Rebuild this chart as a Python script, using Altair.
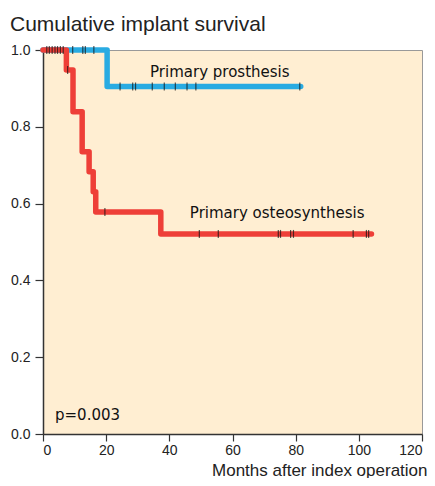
import altair as alt
import pandas as pd

# ---- data ----
# Primary osteosynthesis (red) step curve
red_t = [0, 7.4, 9.5, 12.4, 14.6, 15.9, 16.7, 37.3, 104.0]
red_s = [1.0, 0.948, 0.839, 0.735, 0.683, 0.631, 0.578, 0.521, 0.521]
# censor marks (time, survival)
red_cens_t = [1.2, 2.0, 2.9, 3.8, 4.6, 5.5, 6.4, 7.8, 19.6,
              49.5, 55.5, 74.5, 75.2, 78.4, 79.3, 98.2, 102.4, 103.1]
red_cens_s = [1.0, 1.0, 1.0, 1.0, 1.0, 1.0, 1.0, 0.948, 0.578,
              0.521, 0.521, 0.521, 0.521, 0.521, 0.521, 0.521, 0.521, 0.521]

# Primary prosthesis (blue) step curve
blue_t = [0, 20.3, 81.6]
blue_s = [1.0, 0.905, 0.905]
blue_cens_t = [9.4, 12.6, 13.4, 16.1, 24.4, 28.4, 29.3, 34.6, 38.4, 41.9, 45.6, 48.4, 81.3]
blue_cens_s = [1.0, 1.0, 1.0, 1.0, 0.905, 0.905, 0.905, 0.905, 0.905, 0.905, 0.905, 0.905, 0.905]

label_text = ["Primary prosthesis", "Primary osteosynthesis", "p=0.003"]
label_t = [33.9, 46.5, 3.8]
label_s = [0.93, 0.562, 0.036]

x_ticks = [0, 20, 40, 60, 80, 100, 120]
y_ticks = [0.0, 0.2, 0.4, 0.6, 0.8, 1.0]

RED = "#EE3F38"
BLUE = "#29ABE2"

red_df = pd.DataFrame({"t": red_t, "s": red_s})
blue_df = pd.DataFrame({"t": blue_t, "s": blue_s})
red_c = pd.DataFrame({"t": red_cens_t, "s": red_cens_s})
blue_c = pd.DataFrame({"t": blue_cens_t, "s": blue_cens_s})
labels = pd.DataFrame({"t": label_t, "s": label_s, "txt": label_text})

xs = alt.Scale(domain=[0, 120], nice=False)
ys = alt.Scale(domain=[0, 1], nice=False)

X = alt.X("t:Q", scale=xs,
          axis=alt.Axis(values=x_ticks, title="Months after index operation",
                        titleX=384, titleY=41, titleAlign="right",
                        titleBaseline="alphabetic", titleAnchor="end",
                        titleFont="Liberation Sans", titleFontSize=17,
                        titleFontWeight="normal", titleColor="#222",
                        tickSize=7, labelPadding=2, format="d"))
Y = alt.Y("s:Q", scale=ys,
          axis=alt.Axis(values=y_ticks, title=None, format=".1f",
                        tickSize=8, labelPadding=5))

blue_line = alt.Chart(blue_df).mark_line(
    interpolate="step-after", color=BLUE, strokeWidth=5.5,
    strokeCap="round", strokeJoin="round").encode(x=X, y=Y)
red_line = alt.Chart(red_df).mark_line(
    interpolate="step-after", color=RED, strokeWidth=5.5,
    strokeCap="round", strokeJoin="round").encode(x=X, y=Y)

blue_ticks = alt.Chart(blue_c).mark_tick(
    orient="vertical", color="#111", size=8, thickness=1.2).encode(x=X, y=Y)
red_ticks = alt.Chart(red_c).mark_tick(
    orient="vertical", color="#111", size=8, thickness=1.2).encode(x=X, y=Y)

text = alt.Chart(labels).mark_text(
    align="left", baseline="alphabetic", font="DejaVu Sans",
    fontSize=15, color="#111").encode(x=X, y=Y, text="txt:N")

chart = alt.layer(blue_line, red_line, blue_ticks, red_ticks, text).properties(
    width=379, height=384,
    autosize=alt.AutoSizeParams(type="none"),
    padding={"left": 35, "top": 42, "right": 5, "bottom": 44},
    title=alt.TitleParams("Cumulative implant survival", anchor="start",
                          frame="group", dx=-33, offset=8,
                          font="Liberation Sans", fontSize=21,
                          fontWeight="normal", color="#222"),
).configure_view(
    fill="#FFEED2", stroke="#999", strokeWidth=1
).configure_axis(
    grid=False, labelFont="Liberation Sans", labelFontSize=14,
    labelColor="#222", tickColor="#333", domainColor="#333",
    domainWidth=1.5, tickWidth=1.2
)

chart.save("out.html", embed_options={"renderer": "svg", "actions": False})
